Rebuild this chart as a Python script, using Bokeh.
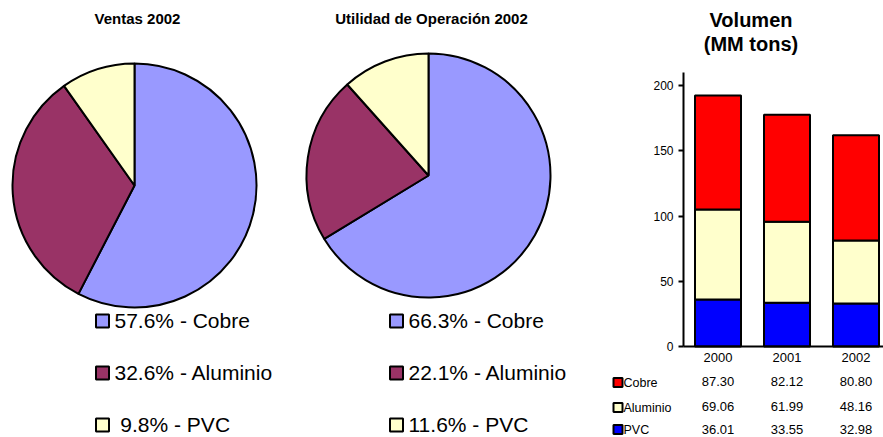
import numpy as np
from bokeh.plotting import figure
from bokeh.layouts import row
from bokeh.models import Range1d, LinearAxis, FixedTicker, ColumnDataSource
from bokeh.core.properties import value
from bokeh.embed import file_html
from bokeh.resources import INLINE

# ---------------- data ----------------
slices = ["Cobre", "Aluminio", "PVC"]
ventas_pct = [57.6, 32.6, 9.8]
utilidad_pct = [66.3, 22.1, 11.6]
pie_titles = ["Ventas 2002", "Utilidad de Operación 2002"]

years = ["2000", "2001", "2002"]
vol_cobre = [87.30, 82.12, 80.80]
vol_aluminio = [69.06, 61.99, 48.16]
vol_pvc = [36.01, 33.55, 32.98]
vol_ticks = [0, 50, 100, 150, 200]
vol_title = ["Volumen", "(MM tons)"]

# ---------------- style / layout ----------------
FONT = "Liberation Sans"
PIE_COLORS = ["#9999FF", "#993366", "#FFFFCC"]
BAR_COLORS = ["#FF0000", "#FFFFCC", "#0000FF"]  # Cobre, Aluminio, PVC

TOP, BOTTOM = 0, 437
LEFT, SPLIT, RIGHT = 0, 600, 883
KB = 0.32  # empirical baseline correction (fraction of font size)


def base(y, fs):
    return y - KB * fs


# ---------------- pies ----------------
pies = figure(width=SPLIT - LEFT, height=BOTTOM - TOP,
              x_range=Range1d(LEFT, SPLIT), y_range=Range1d(-BOTTOM, -TOP),
              x_axis_type=None, y_axis_type=None, toolbar_location=None,
              output_backend="svg", min_border=0, outline_line_color=None,
              background_fill_color="white", border_fill_color="white")


def draw_pie(fig, pcts, title, cx, cy, r, tx, ty, sq_x, txt_x, rows_y):
    fr = np.array(pcts) / sum(pcts)
    cum = np.concatenate([[0.0], np.cumsum(fr)])
    a_from = np.pi / 2 - 2 * np.pi * cum[:-1]
    a_to = np.pi / 2 - 2 * np.pi * cum[1:]
    src = ColumnDataSource(dict(start=a_to, end=a_from, color=PIE_COLORS))
    fig.wedge(x=cx, y=-cy, radius=r, start_angle="start", end_angle="end",
              fill_color="color", line_color="black", line_width=2, source=src)
    fig.text(x=[tx], y=[-base(ty, 15)], text=[title], text_font=value(FONT),
             text_font_size="15px", text_font_style="bold",
             text_align="center", text_baseline="alphabetic", text_color="black")
    labels = [f"{p:4.1f}".replace(" ", "\u00a0") + "% - " + n for p, n in zip(pcts, slices)]
    fig.rect(x=[sq_x] * 3, y=[-(y - 6.5) for y in rows_y], width=13, height=13,
             width_units="screen", height_units="screen",
             fill_color=PIE_COLORS, line_color="black", line_width=2)
    fig.text(x=[txt_x] * 3, y=[-base(y, 21) for y in rows_y], text=labels,
             text_font=value(FONT), text_font_size="21px",
             text_align="left", text_baseline="alphabetic", text_color="black")


legend_rows = [327, 379, 431]
draw_pie(pies, ventas_pct, pie_titles[0], 134, 185, 122, 137, 23, 102, 114, legend_rows)
draw_pie(pies, utilidad_pct, pie_titles[1], 428, 175, 122, 431, 23, 396, 408, legend_rows)

# ---------------- stacked bars ----------------
X0, CW = 683, 69.0     # page x of value axis, px per category
Y0, PXU = 346, 1.305   # page y of zero, px per unit


def bx(px):
    return (px - X0) / CW


def by(py):
    return (Y0 - py) / PXU


bar = figure(width=RIGHT - SPLIT, height=BOTTOM - TOP,
             x_range=Range1d(bx(SPLIT), bx(RIGHT)), y_range=Range1d(by(BOTTOM), by(TOP)),
             x_axis_type=None, y_axis_type=None, toolbar_location=None,
             output_backend="svg", min_border=0, outline_line_color=None,
             background_fill_color="white", border_fill_color="white")

xs = [i + 0.5 for i in range(len(years))]
src = ColumnDataSource(dict(x=xs, PVC=vol_pvc, Aluminio=vol_aluminio, Cobre=vol_cobre))
bar.vbar_stack(["PVC", "Aluminio", "Cobre"], x="x", width=0.667, source=src,
               fill_color=BAR_COLORS[::-1], line_color="black", line_width=2)

yax = LinearAxis(fixed_location=0, ticker=FixedTicker(ticks=vol_ticks), bounds=(0, 210),
                 axis_line_width=2, axis_line_color="black",
                 major_tick_line_width=2, major_tick_out=5, major_tick_in=0,
                 minor_tick_line_color=None,
                 major_label_text_font=FONT, major_label_text_font_size="12px",
                 major_label_text_color="black", major_label_standoff=5)
bar.add_layout(yax, "left")

xax = LinearAxis(fixed_location=0, ticker=FixedTicker(ticks=[]), bounds=(0, bx(RIGHT)),
                 axis_line_width=2, axis_line_color="black",
                 major_tick_line_color=None, minor_tick_line_color=None)
bar.add_layout(xax, "below")

# title
bar.text(x=[bx(750.5)] * 2, y=[by(base(26, 20)), by(base(50, 20))], text=vol_title,
         text_font=value(FONT), text_font_size="20px", text_font_style="bold",
         text_align="center", text_baseline="alphabetic", text_color="black")

# data table
bar.text(x=xs, y=[by(base(361.5, 13))] * 3, text=years, text_font=value(FONT),
         text_font_size="13px", text_align="center", text_baseline="alphabetic",
         text_color="black")
val_base = [385, 410, 433.5]
for vals, yy in zip([vol_cobre, vol_aluminio, vol_pvc], val_base):
    bar.text(x=xs, y=[by(base(yy, 13))] * 3, text=[f"{v:.2f}" for v in vals],
             text_font=value(FONT), text_font_size="13px", text_align="center",
             text_baseline="alphabetic", text_color="black")
lab_base = [386.5, 411.5, 433.5]
bar.rect(x=[bx(617.5)] * 3, y=[by(b - 4.5) for b in lab_base], width=9, height=9,
         width_units="screen", height_units="screen", fill_color=BAR_COLORS,
         line_color="black", line_width=2)
bar.text(x=[bx(623)] * 3, y=[by(base(b, 12.5)) for b in lab_base], text=slices,
         text_font=value(FONT), text_font_size="12.5px", text_align="left",
         text_baseline="alphabetic", text_color="black")

p = row(pies, bar, spacing=0)
open("out.html", "w").write(file_html(p, INLINE))
